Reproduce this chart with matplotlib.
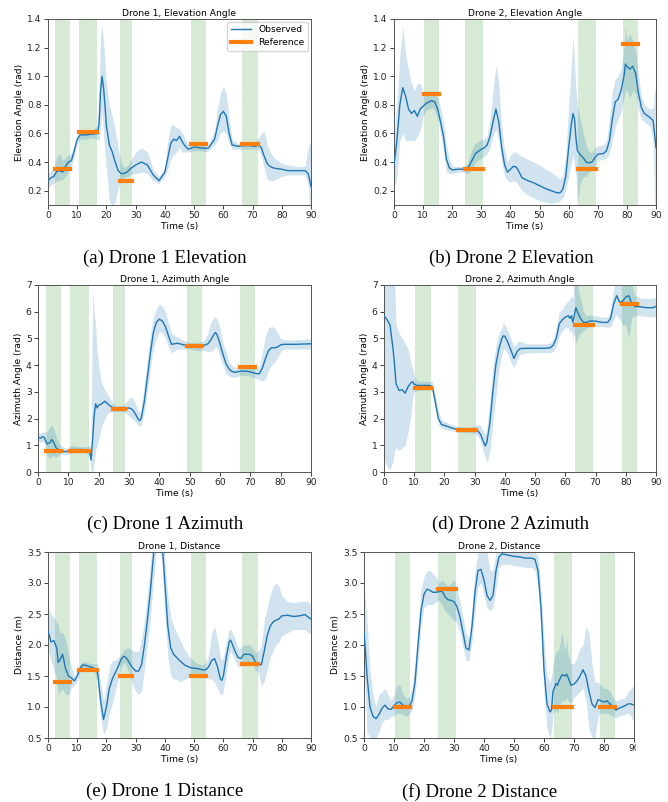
import matplotlib
matplotlib.use('Agg')
import matplotlib.pyplot as plt
from matplotlib.patches import Rectangle

# ---------------- data ----------------
d1_span_start = [2.5, 10.6, 24.7, 49.0, 66.5]
d1_span_end = [7.6, 16.8, 28.8, 54.2, 71.7]
d2_span_start = [10.3, 24.5, 63.3, 78.8]
d2_span_end = [15.4, 30.5, 69.3, 83.8]

ref_elev1 = [0.35, 0.61, 0.265, 0.525, 0.525]
ref_elev2 = [0.875, 0.35, 0.35, 1.225]
ref_azim1 = [0.78, 0.78, 2.36, 4.71, 3.92]
ref_azim2 = [3.14, 1.57, 5.5, 6.28]
ref_dist1 = [1.40, 1.60, 1.50, 1.50, 1.70]
ref_dist2 = [1.0, 2.9, 1.0, 1.0]

# (a) Drone 1 elevation
a_t = [0, 1, 2, 3, 4, 5, 6, 7, 8, 9,
       10, 11, 13, 15, 17,
       17.5, 18, 18.5, 19, 19.5,
       20, 21, 22, 23, 24,
       25, 26, 27, 28, 30,
       32, 34, 36, 38, 40,
       41, 42, 43, 44, 45,
       46, 47, 48, 50, 52,
       54, 55, 56, 57, 58,
       59, 60, 61, 62, 63,
       65, 67, 69, 71, 72,
       73, 74, 75, 76, 77,
       78, 80, 82, 85, 88,
       89, 89.5, 90]
a_mean = [.27, .29, .30, .335, .34, .33, .37, .40, .41, .48,
          .56, .59, .59, .595, .60,
          .68, .90, 1.00, .92, .80,
          .65, .52, .47, .40, .34,
          .32, .32, .33, .35, .38,
          .40, .38, .31, .27, .33,
          .43, .53, .56, .55, .58,
          .54, .51, .49, .505, .50,
          .495, .50, .53, .56, .65,
          .73, .755, .72, .60, .52,
          .51, .515, .515, .51, .52,
          .50, .44, .39, .37, .36,
          .355, .35, .34, .34, .34,
          .32, .28, .23]
a_lo = [.22, .24, .25, .27, .27, .28, .30, .34, .37, .44,
        .53, .56, .56, .57, .56,
        .55, .65, .75, .60, .45,
        .35, .12, .10, .12, .22,
        .26, .29, .30, .31, .32,
        .33, .32, .27, .25, .30,
        .35, .42, .45, .47, .50,
        .47, .47, .47, .48, .48,
        .47, .48, .50, .52, .55,
        .60, .62, .60, .53, .49,
        .49, .49, .49, .49, .49,
        .44, .36, .28, .27, .27,
        .28, .30, .31, .31, .31,
        .25, .10, .10]
a_hi = [.32, .34, .35, .44, .46, .41, .43, .45, .46, .52,
        .59, .62, .62, .62, .66,
        .95, 1.30, 1.35, 1.25, 1.10,
        .95, .80, .72, .62, .50,
        .40, .36, .37, .40, .47,
        .50, .47, .35, .30, .36,
        .55, .66, .66, .64, .63,
        .60, .56, .52, .53, .52,
        .52, .53, .57, .62, .78,
        .88, .93, .88, .70, .56,
        .53, .54, .54, .54, .57,
        .60, .62, .52, .47, .44,
        .42, .39, .38, .37, .37,
        .50, .53, .53]

# (b) Drone 2 elevation
b_t = [0, 1, 2, 3, 4, 5, 6, 7, 8, 9,
       10, 11, 12, 13, 14,
       15, 16, 17, 18, 19,
       20, 22, 24, 25, 26,
       27, 28, 30, 31, 32,
       33, 34, 35, 36, 37,
       38, 39, 40, 41, 42,
       43, 44, 46, 48, 50,
       52, 54, 56, 57, 58,
       59, 60, 61, 61.5, 62,
       62.5, 63, 64, 65, 66,
       67, 68, 69, 70, 72,
       73, 74, 75, 76, 77,
       78, 79, 79.5, 80, 81,
       82, 83, 84, 85, 86,
       88, 89, 89.5, 90]
b_mean = [.38, .55, .80, .92, .86, .77, .74, .76, .72, .77,
          .79, .81, .82, .83, .82,
          .77, .68, .58, .42, .36,
          .345, .35, .35, .35, .38,
          .42, .46, .49, .50, .52,
          .58, .68, .77, .68, .50,
          .38, .33, .35, .37, .365,
          .33, .29, .27, .255, .235,
          .215, .20, .185, .185, .21,
          .30, .50, .68, .74, .70,
          .57, .48, .45, .43, .40,
          .395, .40, .43, .455, .46,
          .48, .55, .70, .82, .84,
          .90, 1.00, 1.085, 1.07, 1.05,
          1.07, 1.02, .88, .78, .74,
          .71, .69, .60, .50]
b_lo = [.22, .30, .55, .60, .55, .55, .55, .55, .58, .62,
        .72, .76, .77, .78, .76,
        .70, .60, .48, .33, .32,
        .32, .33, .33, .32, .33,
        .36, .40, .43, .44, .46,
        .50, .58, .63, .55, .40,
        .30, .27, .26, .27, .26,
        .23, .20, .17, .15, .13,
        .12, .11, .12, .13, .15,
        .20, .30, .40, .45, .38,
        .30, .10, .25, .30, .30,
        .33, .34, .37, .41, .42,
        .43, .46, .55, .65, .70,
        .75, .85, .90, .90, .85,
        .90, .88, .76, .70, .68,
        .65, .55, .10, .10]
b_hi = [.55, .80, 1.15, 1.35, 1.15, 1.05, .95, .90, .95, .95,
        .88, .87, .87, .88, .88,
        .85, .78, .68, .52, .42,
        .37, .37, .37, .38, .44,
        .50, .53, .56, .56, .58,
        .70, .90, 1.08, .95, .65,
        .48, .40, .45, .47, .47,
        .45, .44, .42, .40, .38,
        .35, .33, .30, .28, .30,
        .45, .80, 1.10, 1.28, 1.10,
        .90, .80, .70, .60, .52,
        .47, .47, .50, .51, .52,
        .55, .70, .90, .98, 1.00,
        1.05, 1.20, 1.35, 1.25, 1.30,
        1.25, 1.17, 1.00, .86, .80,
        .77, .78, .90, .92]

# (c) Drone 1 azimuth
c_t = [0, 1, 1.5, 2, 3, 4, 4.5, 5, 6, 7,
       8, 9, 10, 11, 12,
       14, 16, 17, 17.5, 18,
       18.5, 19, 19.5, 20, 21,
       22, 23, 24, 25, 26,
       28, 29, 30, 31, 32,
       33, 33.5, 34, 35, 36,
       37, 38, 39, 40, 41,
       42, 43, 44, 45, 46,
       48, 50, 52, 54, 55,
       56, 57, 58, 58.5, 59,
       60, 61, 62, 63, 64,
       65, 67, 69, 71, 72,
       73, 74, 75, 76, 77,
       78, 79, 80, 81, 85,
       90]
c_mean = [1.28, 1.27, 1.33, 1.30, 1.05, 1.10, 1.22, 1.15, .90, .82,
          .78, .76, .78, .84, .84,
          .84, .83, .80, .45, 1.2,
          2.1, 2.55, 2.4, 2.5, 2.55,
          2.65, 2.55, 2.45, 2.40, 2.37,
          2.37, 2.38, 2.40, 2.35, 2.20,
          1.98, 1.92, 2.0, 2.6, 3.5,
          4.4, 5.2, 5.6, 5.72, 5.65,
          5.45, 5.1, 4.78, 4.80, 4.82,
          4.76, 4.72, 4.70, 4.72, 4.75,
          4.80, 4.95, 5.15, 5.22, 5.15,
          4.80, 4.40, 4.05, 3.85, 3.76,
          3.73, 3.78, 3.77, 3.72, 3.68,
          3.68, 3.9, 4.25, 4.55, 4.65,
          4.65, 4.68, 4.76, 4.78, 4.78,
          4.80]
c_lo = [1.15, 1.10, 1.15, 1.10, .60, .50, .60, .60, .55, .65,
        .68, .65, .65, .70, .72,
        .74, .72, .55, 0, 0,
        .3, .8, 1.0, 1.2, 1.7,
        2.0, 2.2, 2.25, 2.25, 2.27,
        2.25, 2.2, 2.1, 2.0, 1.9,
        1.75, 1.7, 1.75, 2.2, 3.0,
        3.8, 4.6, 5.0, 5.25, 5.2,
        5.0, 4.7, 4.45, 4.55, 4.6,
        4.6, 4.6, 4.55, 4.55, 4.55,
        4.5, 4.5, 4.6, 4.7, 4.65,
        4.3, 4.0, 3.7, 3.6, 3.55,
        3.55, 3.62, 3.62, 3.55, 3.5,
        3.45, 3.4, 3.5, 3.8, 4.0,
        4.1, 4.3, 4.5, 4.6, 4.6,
        4.6]
c_hi = [1.45, 1.45, 1.5, 1.5, 1.5, 1.7, 1.75, 1.7, 1.3, 1.05,
        .95, .90, .92, 1.0, .98,
        .94, .95, 1.0, 1.0, 6.8,
        6.0, 5.5, 4.5, 4.0, 3.3,
        3.1, 2.9, 2.7, 2.55, 2.47,
        2.5, 2.6, 2.75, 2.8, 2.6,
        2.3, 2.2, 2.4, 3.2, 4.2,
        5.1, 5.8, 6.1, 6.3, 6.2,
        6.0, 5.6, 5.2, 5.1, 5.05,
        4.92, 4.85, 4.85, 4.88, 4.95,
        5.2, 5.6, 5.8, 5.8, 5.75,
        5.4, 4.8, 4.5, 4.1, 3.98,
        3.92, 3.92, 3.92, 3.9, 3.88,
        3.95, 4.5, 5.1, 5.4, 5.45,
        5.4, 5.2, 5.0, 4.95, 4.95,
        4.98]

# (d) Drone 2 azimuth
d_t = [0, 1, 2, 3, 3.5, 4, 5, 6, 7, 8,
       9, 9.5, 10, 11, 13,
       15, 16, 17, 18, 19,
       20, 21, 22, 24, 26,
       28, 30, 31, 32, 33,
       33.5, 34, 35, 36, 37,
       38, 39, 39.5, 40, 41,
       42, 43, 44, 45, 47,
       50, 53, 55, 56, 57,
       58, 59, 60, 61, 61.5,
       62, 62.5, 63, 63.5, 64,
       65, 66, 67, 68, 70,
       72, 74, 75, 76, 77,
       78, 79, 80, 81, 82,
       83, 85, 87, 89, 90]
d_mean = [5.85, 5.7, 5.5, 4.6, 4.0, 3.3, 3.05, 3.08, 2.95, 3.2,
          3.35, 3.38, 3.28, 3.24, 3.24,
          3.24, 3.2, 2.6, 2.0, 1.78,
          1.74, 1.71, 1.66, 1.60, 1.58,
          1.57, 1.58, 1.55, 1.4, 1.1,
          .98, 1.1, 1.8, 3.0, 4.0,
          4.6, 5.0, 5.1, 5.08, 4.85,
          4.55, 4.25, 4.5, 4.62, 4.63,
          4.63, 4.63, 4.65, 4.75, 5.0,
          5.55, 5.7, 5.8, 5.85, 5.75,
          5.85, 5.6, 5.9, 6.15, 6.0,
          5.75, 5.6, 5.6, 5.65, 5.65,
          5.6, 5.6, 5.75, 6.3, 6.6,
          6.35, 6.4, 6.55, 6.6, 6.3,
          6.2, 6.18, 6.15, 6.15, 6.2]
d_lo = [.5, .2, .1, .4, .8, .9, .8, .9, 1.0, 1.5,
        2.2, 2.8, 3.0, 3.05, 3.07,
        3.07, 3.0, 2.4, 1.8, 1.65,
        1.6, 1.58, 1.55, 1.50, 1.48,
        1.47, 1.45, 1.35, 1.15, .7,
        .55, .35, .7, 1.8, 2.8,
        3.8, 4.4, 4.6, 4.6, 4.4,
        4.1, 3.9, 4.2, 4.4, 4.45,
        4.47, 4.47, 4.47, 4.5, 4.7,
        5.1, 5.3, 5.4, 5.4, 5.2,
        5.3, 5.0, 5.2, 4.8, 5.0,
        5.2, 5.3, 5.4, 5.45, 5.45,
        5.45, 5.42, 5.45, 5.7, 5.9,
        5.7, 5.5, 5.5, 5.0, 5.8,
        5.85, 5.85, 5.82, 5.8, 5.8]
d_hi = [7.5, 7.5, 7.5, 7.5, 7.2, 5.5, 5.2, 5.0, 4.8, 4.6,
        4.0, 3.9, 3.6, 3.4, 3.4,
        3.4, 3.4, 2.85, 2.25, 1.95,
        1.9, 1.85, 1.8, 1.72, 1.68,
        1.68, 1.72, 1.78, 1.75, 1.5,
        1.4, 1.6, 2.6, 3.9, 4.7,
        5.2, 5.4, 5.6, 5.5, 5.3,
        5.0, 4.7, 4.85, 4.9, 4.8,
        4.8, 4.8, 4.82, 5.0, 5.4,
        6.0, 6.1, 6.3, 6.4, 6.5,
        6.6, 6.5, 7.5, 7.2, 7.0,
        6.5, 6.0, 5.85, 5.9, 5.85,
        5.8, 5.8, 6.1, 6.9, 7.3,
        7.2, 7.3, 7.3, 7.5, 7.0,
        6.6, 6.5, 6.5, 6.5, 6.55]

# (e) Drone 1 distance
e_t = [0, 0.5, 1, 2, 3, 3.5, 4, 5, 6, 7,
       8, 9, 10, 11, 12,
       13, 15, 16, 17, 18,
       19, 20, 21, 22, 23,
       24, 25, 26, 27, 28,
       29, 30, 31, 32, 33,
       34, 35, 36, 37, 38,
       39, 40, 41, 42, 43,
       44, 45, 47, 49, 51,
       53, 54, 55, 56, 57,
       58, 59, 59.5, 60, 61,
       62, 62.5, 63, 64, 65,
       66, 67, 69, 70, 71,
       72, 73, 74, 75, 76,
       77, 78, 79, 80, 82,
       84, 86, 88, 89, 90]
e_mean = [2.22, 2.15, 2.05, 2.07, 1.95, 1.72, 1.75, 1.85, 1.62, 1.50,
          1.47, 1.42, 1.50, 1.63, 1.68,
          1.67, 1.64, 1.62, 1.55, 1.10,
          .80, 1.00, 1.30, 1.45, 1.55,
          1.65, 1.77, 1.82, 1.78, 1.70,
          1.63, 1.58, 1.58, 1.68, 2.00,
          2.40, 2.85, 3.4, 3.9, 4.1,
          3.7, 3.0, 2.3, 1.95, 1.85,
          1.80, 1.75, 1.67, 1.63, 1.62,
          1.60, 1.60, 1.65, 1.75, 1.78,
          1.65, 1.45, 1.43, 1.50, 1.80,
          2.05, 2.08, 2.02, 1.90, 1.80,
          1.78, 1.85, 1.85, 1.82, 1.72,
          1.70, 1.68, 1.90, 2.15, 2.30,
          2.37, 2.40, 2.42, 2.47, 2.48,
          2.46, 2.47, 2.49, 2.45, 2.42]
e_lo = [1.9, 1.85, 1.75, 1.6, 1.45, 1.2, 1.25, 1.3, 1.2, 1.2,
        1.3, 1.35, 1.42, 1.57, 1.62,
        1.62, 1.59, 1.56, 1.4, .85,
        .55, .65, .9, 1.05, 1.25,
        1.45, 1.65, 1.72, 1.65, 1.5,
        1.35, 1.25, 1.2, 1.25, 1.6,
        2.0, 2.4, 3.0, 3.5, 3.7,
        3.3, 2.5, 1.8, 1.5, 1.45,
        1.45, 1.4, 1.45, 1.5, 1.55,
        1.52, 1.48, 1.45, 1.45, 1.4,
        1.3, 1.2, 1.2, 1.25, 1.55,
        1.85, 1.9, 1.85, 1.75, 1.65,
        1.65, 1.72, 1.72, 1.7, 1.6,
        1.55, 1.35, 1.4, 1.6, 1.8,
        1.9, 2.0, 2.05, 2.15, 2.2,
        2.25, 2.25, 2.25, 2.2, 2.18]
e_hi = [2.6, 2.55, 2.5, 2.45, 2.35, 2.35, 2.2, 2.2, 2.1, 1.85,
        1.65, 1.5, 1.58, 1.7, 1.73,
        1.72, 1.7, 1.7, 1.7, 1.4,
        1.1, 1.35, 1.65, 1.75, 1.75,
        1.8, 1.85, 1.92, 1.95, 1.95,
        1.9, 1.9, 1.9, 2.1, 2.4,
        2.8, 3.3, 3.8, 4.2, 4.4,
        4.0, 3.4, 2.8, 2.45, 2.3,
        2.2, 2.1, 1.9, 1.78, 1.7,
        1.68, 1.72, 1.85, 2.2, 2.3,
        2.1, 1.8, 1.75, 1.8, 2.05,
        2.25, 2.25, 2.2, 2.1, 1.95,
        1.95, 2.0, 2.0, 1.95, 1.88,
        1.9, 2.0, 2.4, 2.6, 2.8,
        2.95, 3.0, 2.95, 2.8, 2.7,
        2.68, 2.7, 2.7, 2.7, 2.65]

# (f) Drone 2 distance
f_t = [0, 0.5, 1, 2, 3, 4, 5, 6, 7, 8,
       9, 10, 11, 12, 13,
       14, 15, 16, 17, 18,
       19, 20, 21, 22, 23,
       24, 25, 26, 27, 28,
       29, 30, 31, 32, 33,
       34, 35, 36, 37, 38,
       39, 40, 41, 42, 43,
       44, 45, 46, 48, 50,
       52, 54, 56, 57, 58,
       59, 60, 61, 62, 62.5,
       63, 64, 64.5, 65, 66,
       67, 67.5, 68, 69, 70,
       71, 72, 73, 74, 75,
       76, 77, 78, 79, 80,
       81, 82, 83, 84, 85,
       87, 88, 89, 90]
f_mean = [2.2, 1.9, 1.5, 1.0, .85, .81, .88, .98, 1.03, .97,
          .96, 1.02, 1.07, 1.08, 1.03,
          .98, 1.00, 1.10, 1.40, 2.00,
          2.55, 2.82, 2.90, 2.88, 2.85,
          2.85, 2.86, 2.87, 2.78, 2.73,
          2.72, 2.70, 2.62, 2.45, 2.20,
          1.95, 1.92, 2.30, 2.85, 3.20,
          3.22, 3.05, 2.80, 2.72, 2.80,
          3.20, 3.42, 3.47, 3.45, 3.43,
          3.42, 3.40, 3.40, 3.38, 3.20,
          2.60, 1.60, 1.05, .92, .95,
          1.25, 1.38, 1.35, 1.42, 1.52,
          1.50, 1.53, 1.48, 1.35, 1.37,
          1.42, 1.50, 1.60, 1.50, 1.25,
          1.05, .99, 1.12, 1.10, 1.08,
          1.10, 1.05, 1.00, .95, .98,
          1.02, 1.05, 1.05, 1.03]
f_lo = [1.5, 1.2, .6, .5, .5, .5, .6, .75, .8, .8,
        .85, .85, .9, .9, .88,
        .85, .88, .95, 1.2, 1.7,
        2.3, 2.6, 2.65, 2.65, 2.65,
        2.7, 2.72, 2.65, 2.55, 2.5,
        2.45, 2.4, 2.35, 2.2, 1.95,
        1.75, 1.75, 2.05, 2.55, 2.95,
        3.0, 2.8, 2.6, 2.55, 2.6,
        2.9, 3.25, 3.3, 3.3, 3.28,
        3.27, 3.25, 3.25, 3.2, 2.95,
        2.3, 1.2, .65, .5, .6,
        .9, .95, .9, 1.0, 1.1,
        1.1, 1.15, 1.1, 1.05, 1.15,
        1.2, 1.25, 1.3, 1.1, .65,
        .5, .5, .85, .9, .9,
        .9, .88, .85, .82, .85,
        .88, .9, .85, .75]
f_hi = [3.0, 2.7, 2.4, 1.6, 1.2, 1.0, 1.2, 1.25, 1.3, 1.2,
        1.1, 1.2, 1.35, 1.35, 1.2,
        1.15, 1.15, 1.3, 1.7, 2.3,
        2.9, 3.1, 3.2, 3.2, 3.15,
        3.1, 3.0, 3.05, 3.0, 2.95,
        3.0, 3.05, 2.9, 2.7, 2.45,
        2.2, 2.1, 2.6, 3.2, 3.5,
        3.5, 3.5, 3.5, 3.2, 3.2,
        3.5, 3.55, 3.55, 3.55, 3.52,
        3.5, 3.5, 3.52, 3.5, 3.45,
        2.9, 2.1, 1.5, 1.4, 1.5,
        1.7, 1.9, 1.9, 1.95, 2.2,
        1.9, 2.1, 1.85, 1.7, 1.7,
        1.8, 1.95, 2.0, 2.3, 2.2,
        1.7, 1.4, 1.4, 1.35, 1.3,
        1.3, 1.25, 1.15, 1.1, 1.12,
        1.15, 1.25, 1.3, 1.35]

titles = ["Drone 1, Elevation Angle", "Drone 2, Elevation Angle",
          "Drone 1, Azimuth Angle", "Drone 2, Azimuth Angle",
          "Drone 1, Distance", "Drone 2, Distance"]
ylabels = ["Elevation Angle (rad)", "Elevation Angle (rad)",
           "Azimuth Angle (rad)", "Azimuth Angle (rad)",
           "Distance (m)", "Distance (m)"]
captions = ["(a) Drone 1 Elevation", "(b) Drone 2 Elevation",
            "(c) Drone 1 Azimuth", "(d) Drone 2 Azimuth",
            "(e) Drone 1 Distance", "(f) Drone 2 Distance"]
x_ticks = [0, 10, 20, 30, 40, 50, 60, 70, 80, 90]
elev_ticks = [0.2, 0.4, 0.6, 0.8, 1.0, 1.2, 1.4]
azim_ticks = [0, 1, 2, 3, 4, 5, 6, 7]
dist_ticks = [0.5, 1.0, 1.5, 2.0, 2.5, 3.0, 3.5]

# ---------------- figure ----------------
W, H = 668, 802
plt.rcParams['font.family'] = ['DejaVu Sans']
FS = 6.6
fig = plt.figure(figsize=(W / 100, H / 100), dpi=100)


def add_ax(l, r, t, b):
    return fig.add_axes([l / W, 1 - b / H, (r - l) / W, (b - t) / H])


def panel(ax, t, m, lo, hi, s0, s1, refs, ylim, yticks, fmt, title, ylabel):
    for a, b in zip(s0, s1):
        ax.axvspan(a, b, color='green', alpha=0.16, lw=0, zorder=1)
    ax.fill_between(t, lo, hi, color='C0', alpha=0.2, lw=0, zorder=2)
    ax.plot(t, m, color='C0', lw=1.0, zorder=3, label='Observed')
    for i, (a, b) in enumerate(zip(s0, s1)):
        ax.plot([a, b], [refs[i], refs[i]], color='C1', lw=3,
                solid_capstyle='projecting', zorder=4,
                label='Reference' if i == 0 else None)
    ax.set_xlim(0, 90)
    ax.set_ylim(*ylim)
    ax.set_xticks(x_ticks)
    ax.set_yticks(yticks)
    ax.set_yticklabels([fmt.format(v) for v in yticks])
    ax.tick_params(labelsize=FS, length=3, width=0.6, pad=1.5, colors='#222222')
    for sp in ax.spines.values():
        sp.set_linewidth(0.7)
        sp.set_color('#555555')
    ax.set_title(title, fontsize=FS, pad=2.5)
    ax.set_ylabel(ylabel, fontsize=FS, labelpad=2)
    ax.set_xlabel("Time (s)", fontsize=FS, labelpad=1)


axes_px = [(48, 311, 19, 205), (394, 656, 19, 205),
           (38, 311, 285, 472), (384, 656, 285, 472),
           (48, 311, 552, 738), (364, 634, 552, 738)]
cap_px = [(165, 258), (511, 258), (165, 524), (511, 524), (165, 791), (480, 792)]

data = [
    (a_t, a_mean, a_lo, a_hi, d1_span_start, d1_span_end, ref_elev1, (0.1, 1.4), elev_ticks, "{:.1f}"),
    (b_t, b_mean, b_lo, b_hi, d2_span_start, d2_span_end, ref_elev2, (0.1, 1.4), elev_ticks, "{:.1f}"),
    (c_t, c_mean, c_lo, c_hi, d1_span_start, d1_span_end, ref_azim1, (0, 7), azim_ticks, "{:d}"),
    (d_t, d_mean, d_lo, d_hi, d2_span_start, d2_span_end, ref_azim2, (0, 7), azim_ticks, "{:d}"),
    (e_t, e_mean, e_lo, e_hi, d1_span_start, d1_span_end, ref_dist1, (0.5, 3.5), dist_ticks, "{:.1f}"),
    (f_t, f_mean, f_lo, f_hi, d2_span_start, d2_span_end, ref_dist2, (0.5, 3.5), dist_ticks, "{:.1f}"),
]

for i, (pos, d) in enumerate(zip(axes_px, data)):
    ax = add_ax(*pos)
    panel(ax, *d, titles[i], ylabels[i])
    if i == 0:
        ax.legend(loc='upper right', fontsize=FS, frameon=True, borderpad=0.4,
                  handlelength=2.2, labelspacing=0.4, borderaxespad=0.3)
    cx, cy = cap_px[i]
    fig.text(cx / W, 1 - cy / H, captions[i], ha='center', va='center',
             fontsize=13.5, family='Liberation Serif')

# the source image is cropped right of panel (f)
fig.patches.append(Rectangle((636 / W, 0), (W - 636) / W, 1 - 741 / H,
                             transform=fig.transFigure, color='white', zorder=10))

fig.savefig('out.png', dpi=100)
